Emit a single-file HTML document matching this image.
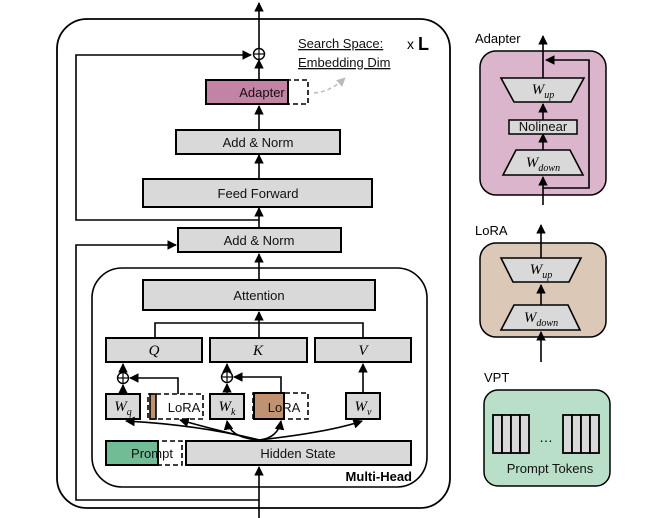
<!DOCTYPE html>
<html><head><meta charset="utf-8"><style>
html,body{margin:0;padding:0;background:#fff;}
svg{display:block;font-family:"Liberation Sans","DejaVu Sans",sans-serif;}
.b{fill:#d9d9d9;stroke:#000;stroke-width:2;}
.t{font-size:13px;text-anchor:middle;fill:#111;}
.i{font-family:"Liberation Serif",serif;font-style:italic;font-size:15px;text-anchor:middle;}
.s{font-size:10px;}
.l{stroke:#000;stroke-width:1.6;fill:none;}
</style></head><body>
<svg width="653" height="518" viewBox="0 0 653 518" xmlns="http://www.w3.org/2000/svg">
<defs><marker id="a" viewBox="0 0 10 10" refX="9" refY="5" markerWidth="6" markerHeight="6" orient="auto-start-reverse"><path d="M0,0L10,5L0,10z" fill="#000"/></marker>
<marker id="g" viewBox="0 0 10 10" refX="9" refY="5" markerWidth="6" markerHeight="6" orient="auto"><path d="M0,0L10,5L0,10z" fill="#bbb"/></marker></defs>
<rect x="57" y="19" width="393" height="489" rx="30" fill="none" stroke="#000" stroke-width="1.8"/>
<line class="l" x1="259" y1="518" x2="259" y2="467" marker-end="url(#a)"/>
<line class="l" x1="259" y1="80" x2="259" y2="60" marker-end="url(#a)"/>
<line class="l" x1="259" y1="48" x2="259" y2="3" marker-end="url(#a)"/>
<circle cx="259" cy="54" r="5.5" fill="#fff" stroke="#000" stroke-width="1.4"/>
<line x1="253.5" y1="54" x2="264.5" y2="54" stroke="#000" stroke-width="1.2"/><line x1="259" y1="48.5" x2="259" y2="59.5" stroke="#000" stroke-width="1.2"/>
<polyline class="l" points="259,220 76,220 76,55 251,55" marker-end="url(#a)"/>
<polyline class="l" points="259,500 76,500 76,245 176,245" marker-end="url(#a)"/>
<line class="l" x1="259" y1="130" x2="259" y2="106" marker-end="url(#a)"/>
<line class="l" x1="259" y1="179" x2="259" y2="155" marker-end="url(#a)"/>
<line class="l" x1="259" y1="228" x2="259" y2="208" marker-end="url(#a)"/>
<line class="l" x1="259" y1="280" x2="259" y2="254" marker-end="url(#a)"/>
<rect x="206" y="80" width="102" height="24" fill="none" stroke="#000" stroke-width="1.6" stroke-dasharray="5,3"/>
<rect x="206" y="80" width="82" height="24" fill="#c383a4" stroke="#000" stroke-width="2"/>
<text class="t" x="262" y="97">Adapter</text>
<path d="M314,93 Q330,92 345,78" stroke="#bbb" stroke-width="1.5" fill="none" stroke-dasharray="4,3" marker-end="url(#g)"/>
<text x="298" y="48" font-size="13" text-decoration="underline" fill="#111">Search Space:</text>
<text x="298" y="67" font-size="13" text-decoration="underline" fill="#111">Embedding Dim</text>
<text x="407" y="49" font-size="14" fill="#000">x</text><text x="418" y="50" font-size="18" font-weight="bold" fill="#000">L</text>
<rect class="b" x="176" y="130" width="164" height="24"/><text class="t" x="258" y="147">Add &amp; Norm</text>
<rect class="b" x="143" y="179" width="229" height="28"/><text class="t" x="258" y="198">Feed Forward</text>
<rect class="b" x="178" y="228" width="163" height="24"/><text class="t" x="259" y="245">Add &amp; Norm</text>
<rect x="92" y="268" width="335" height="219" rx="30" fill="none" stroke="#000" stroke-width="1.6"/>
<text x="412" y="481" font-size="13" font-weight="bold" text-anchor="end">Multi-Head</text>
<rect class="b" x="143" y="280" width="232" height="30"/><text class="t" x="259" y="300">Attention</text>
<polyline class="l" points="155,338 155,323 363,323 363,338"/>
<line class="l" x1="259" y1="338" x2="259" y2="312" marker-end="url(#a)"/>
<rect class="b" x="106" y="338" width="96" height="24"/><text class="i" x="154" y="355">Q</text>
<rect class="b" x="210" y="338" width="97" height="24"/><text class="i" x="258" y="355">K</text>
<rect class="b" x="315" y="338" width="96" height="24"/><text class="i" x="363" y="355">V</text>
<rect class="b" x="106" y="394" width="34" height="25"/><text class="i" x="123" y="411">W<tspan class="s" dy="4">q</tspan></text>
<rect x="148" y="394" width="55" height="25" fill="#fff" stroke="#000" stroke-width="1.6" stroke-dasharray="5,3"/>
<rect x="150" y="394" width="6" height="25" fill="#bf9372" stroke="#000" stroke-width="1.6"/>
<text class="t" x="184" y="412">LoRA</text>
<rect class="b" x="210" y="394" width="34" height="25"/><text class="i" x="227" y="411">W<tspan class="s" dy="4">k</tspan></text>
<rect x="253" y="393" width="55" height="26" fill="none" stroke="#000" stroke-width="1.6" stroke-dasharray="5,3"/>
<rect x="254" y="393" width="30" height="26" fill="#bf9372" stroke="#000" stroke-width="2"/>
<text class="t" x="284" y="412">LoRA</text>
<rect class="b" x="346" y="393" width="34" height="26"/><text class="i" x="363" y="411">W<tspan class="s" dy="4">v</tspan></text>
<circle cx="123" cy="378" r="5.5" fill="#fff" stroke="#000" stroke-width="1.4"/><line x1="117.5" y1="378" x2="128.5" y2="378" stroke="#000" stroke-width="1.2"/><line x1="123" y1="372.5" x2="123" y2="383.5" stroke="#000" stroke-width="1.2"/>
<circle cx="227" cy="377" r="5.5" fill="#fff" stroke="#000" stroke-width="1.4"/><line x1="221.5" y1="377" x2="232.5" y2="377" stroke="#000" stroke-width="1.2"/><line x1="227" y1="371.5" x2="227" y2="382.5" stroke="#000" stroke-width="1.2"/>
<line class="l" x1="123" y1="394" x2="123" y2="385" marker-end="url(#a)"/>
<line class="l" x1="123" y1="372" x2="123" y2="364" marker-end="url(#a)"/>
<line class="l" x1="227" y1="394" x2="227" y2="384" marker-end="url(#a)"/>
<line class="l" x1="227" y1="371" x2="227" y2="364" marker-end="url(#a)"/>
<polyline class="l" points="178,394 178,378 130,378" marker-end="url(#a)"/>
<polyline class="l" points="281,393 281,377 234,377" marker-end="url(#a)"/>
<line class="l" x1="363" y1="393" x2="363" y2="364" marker-end="url(#a)"/>
<path class="l" d="M259,440 Q200,425 126,421" marker-end="url(#a)"/>
<path class="l" d="M259,440 Q215,430 180,420" marker-end="url(#a)"/>
<path class="l" d="M259,440 Q230,438 227,421" marker-end="url(#a)"/>
<path class="l" d="M259,440 Q278,438 281,421" marker-end="url(#a)"/>
<path class="l" d="M259,440 Q330,432 362,421" marker-end="url(#a)"/>
<rect x="106" y="441" width="76" height="24" fill="#fff" stroke="#000" stroke-width="1.6" stroke-dasharray="5,3"/>
<rect x="106" y="441" width="52" height="24" fill="#71bc94" stroke="#000" stroke-width="2"/>
<text class="t" x="152" y="458">Prompt</text>
<rect class="b" x="186" y="441" width="225" height="24"/><text class="t" x="298" y="458">Hidden State</text>
<text x="475" y="43" font-size="13">Adapter</text>
<rect x="480" y="51" width="126" height="144" rx="16" fill="#dbb5cb" stroke="#000" stroke-width="1.5"/>
<line class="l" x1="543" y1="205" x2="543" y2="177" marker-end="url(#a)"/>
<line class="l" x1="543" y1="150" x2="543" y2="134" marker-end="url(#a)"/>
<line class="l" x1="543" y1="120" x2="543" y2="104" marker-end="url(#a)"/>
<line class="l" x1="543" y1="78" x2="543" y2="36" marker-end="url(#a)"/>
<polyline class="l" points="543,188 589,188 589,60 546,60" marker-end="url(#a)"/>
<polygon points="516,150 570,150 583,175 503,175" fill="#d9d9d9" stroke="#000" stroke-width="1.6"/>
<text class="i" x="543" y="167">W<tspan class="s" dy="4">down</tspan></text>
<rect x="509" y="120" width="68" height="14" fill="#d9d9d9" stroke="#000" stroke-width="1.5"/><text class="t" x="543" y="131" font-size="11">Nolinear</text>
<polygon points="501,78 584,78 571,102 514,102" fill="#d9d9d9" stroke="#000" stroke-width="1.6"/>
<text class="i" x="543" y="94">W<tspan class="s" dy="4">up</tspan></text>
<text x="475" y="235" font-size="13">LoRA</text>
<rect x="480" y="243" width="126" height="94" rx="16" fill="#dcc8b6" stroke="#000" stroke-width="1.5"/>
<line class="l" x1="541" y1="362" x2="541" y2="332" marker-end="url(#a)"/>
<line class="l" x1="541" y1="305" x2="541" y2="285" marker-end="url(#a)"/>
<line class="l" x1="541" y1="258" x2="541" y2="225" marker-end="url(#a)"/>
<polygon points="514,305 568,305 580,330 501,330" fill="#d9d9d9" stroke="#000" stroke-width="1.6"/>
<text class="i" x="541" y="322">W<tspan class="s" dy="4">down</tspan></text>
<polygon points="501,258 581,258 569,282 513,282" fill="#d9d9d9" stroke="#000" stroke-width="1.6"/>
<text class="i" x="541" y="274">W<tspan class="s" dy="4">up</tspan></text>
<text x="484" y="382" font-size="13">VPT</text>
<rect x="484" y="390" width="126" height="96" rx="14" fill="#b9dfc9" stroke="#000" stroke-width="1.5"/>
<g fill="#d9d9d9" stroke="#000" stroke-width="1.8">
<rect x="493" y="415" width="9" height="38"/><rect x="502" y="415" width="9" height="38"/><rect x="511" y="415" width="9" height="38"/><rect x="520" y="415" width="9" height="38"/>
<rect x="563" y="415" width="9" height="38"/><rect x="572" y="415" width="9" height="38"/><rect x="581" y="415" width="9" height="38"/><rect x="590" y="415" width="9" height="38"/>
</g>
<text x="546" y="442" font-size="14" text-anchor="middle">…</text>
<text class="t" x="550" y="473">Prompt Tokens</text>
</svg>
</body></html>
